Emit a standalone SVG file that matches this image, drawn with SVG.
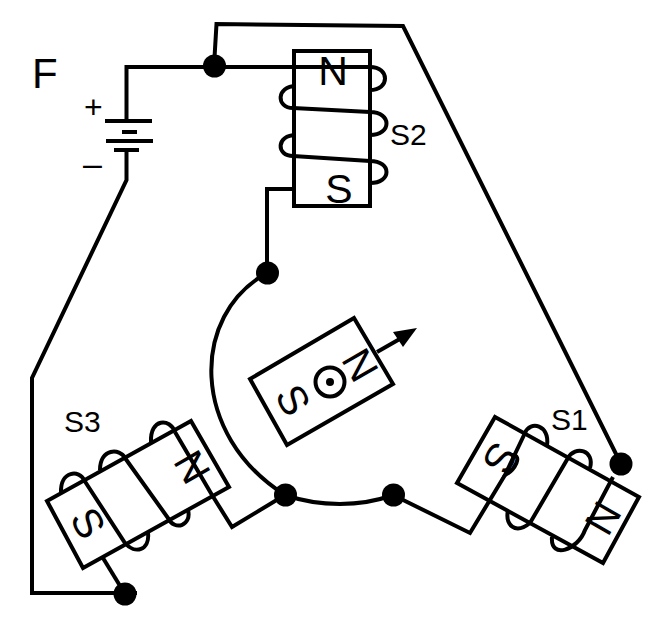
<svg xmlns="http://www.w3.org/2000/svg" width="649" height="624" viewBox="0 0 649 624">
<style>
.w{fill:none;stroke:#000;stroke-width:4;stroke-linejoin:miter}
.d{fill:#000;stroke:none}
text{font-family:"Liberation Sans",Arial,sans-serif;fill:#000}
.p{font-size:41px;text-anchor:middle}
.l{font-size:30px}
</style>
<rect width="649" height="624" fill="#fff"/>
<g id="connectors" class="w">
<path d="M126.500 120V67H370"/>
<path d="M214 66L216.500 24L403 26L621 464"/>
<path d="M126.500 150V180L32 378V593H137"/>
<path d="M292 189H267V273"/>
<path d="M267 273C190 315 190 435 285 495"/>
<path d="M285 495C320 507 360 507 393 495"/>
<path d="M393 495L470 533L505 475"/>
<path d="M285 495L232 527L212 495"/>
<path d="M103 558L125 594"/>
</g>
<g id="battery">
<path class="w" d="M105 121H152M122 132H137M106 141H153M114 150H139"/>
<text x="84" y="118" style="font-size:32px">+</text>
<text x="83" y="175" style="font-size:34px">–</text>
</g>
<g id="S2">
<rect class="w" x="294" y="51" width="76" height="155"/>
<path class="w" d="M370 67C390 67 390 90 370 90M296 86C276 86 276 108 293 108L370 112C392 112 392 135 370 135M296 135C276 135 276 156 293 156L370 161C392 161 392 183 370 183"/>
<text class="p" x="333" y="85">N</text>
<text class="p" x="339" y="203">S</text>
<text class="l" x="390" y="145">S2</text>
</g>
<g id="S1">
<path class="w" d="M495 417L639 497L603 563L457 483Z"/>
<path class="w" d="M525 433C530 420 550 425 547 445M568 458C575 445 595 450 590 468"/>
<path class="w" d="M525 433L505 475C515 470 523 455 512 455M568 458L530 523C515 535 505 525 508 510M613 477L585 530C578 550 550 560 552 537"/>
<text class="p" transform="translate(500 458) rotate(120)" y="14">S</text>
<text class="p" transform="translate(603 518) rotate(120)" y="14">N</text>
<text class="l" x="551" y="430">S1</text>
</g>
<g id="S3">
<path class="w" d="M191 421L229 487L83 568L47 501Z"/>
<path class="w" d="M84 480L125 543C135 555 150 550 148 533M125 458L168 518C175 532 192 525 188 510M175 432L212 495"/>
<path class="w" d="M61 493C60 470 80 470 84 480M100 470C100 448 120 448 125 458M151 442C150 418 170 418 175 432"/>
<text class="p" transform="translate(88 523) rotate(60)" y="14">S</text>
<text class="p" transform="translate(192 467) rotate(60)" y="14">N</text>
<text class="l" x="64" y="432">S3</text>
</g>
<g id="rotor">
<path class="w" d="M354 318L393 384L287 445L250 379Z"/>
<circle class="w" cx="330" cy="382" r="14.500"/>
<circle class="d" cx="330" cy="382" r="4"/>
<path class="w" d="M377 352L405 336"/>
<path class="d" d="M417 328L393 332L403 347Z"/>
<text class="p" transform="translate(293 400) rotate(60)" y="14">S</text>
<text class="p" transform="translate(360 365) rotate(60)" y="14">N</text>
</g>
<g id="labels"><text x="32" y="88" style="font-size:42px">F</text></g>
<g id="dots" class="d">
<circle cx="214.500" cy="66" r="11.500"/>
<circle cx="267.500" cy="273" r="11.500"/>
<circle cx="285.500" cy="495" r="11.500"/>
<circle cx="393.500" cy="495" r="11.500"/>
<circle cx="621" cy="464" r="11.500"/>
<circle cx="125" cy="594" r="11.500"/>
</g>
</svg>
